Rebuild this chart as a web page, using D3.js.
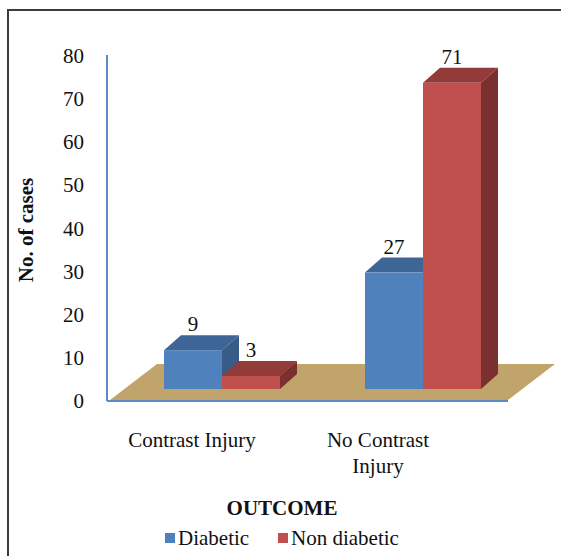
<!DOCTYPE html>
<html>
<head>
<meta charset="utf-8">
<script src="https://cdn.jsdelivr.net/npm/d3@7/dist/d3.min.js"></script>
<style>
html,body{margin:0;padding:0;background:#fff;}
svg{display:block;}
text{font-family:"Liberation Serif","Times New Roman",serif;fill:#111;}
</style>
</head>
<body>
<script>
// ---- data ----
const categories = ["Contrast Injury", "No Contrast Injury"];
const categoryLines = [["Contrast Injury"], ["No Contrast", "Injury"]];
const seriesNames = ["Diabetic", "Non diabetic"];
const diabetic = [9, 27];
const nonDiabetic = [3, 71];
const yTicks = [0, 10, 20, 30, 40, 50, 60, 70, 80];
const yTitle = "No. of cases";
const xTitle = "OUTCOME";

// ---- layout ----
const W = 561, H = 556;
const svg = d3.select("body").append("svg").attr("width", W).attr("height", H);

const colors = {
  front: ["#4F81BD", "#C0504D"],
  top:   ["#3D6697", "#923B39"],
  side:  ["#375C88", "#7A302E"]
};
const depthX = 17, depthY = -15;   // bar depth offset
const floorDX = 47, floorDY = -36; // floor depth offset
const barBaseShift = 11;           // bars sit inside the floor depth

const y = d3.scaleLinear().domain([0, 80]).range([400, 55]);
const xBar = d3.scaleBand().domain(categories).range([121.5, 523.5]).paddingInner(0).paddingOuter(0);
const xInner = d3.scaleBand().domain(seriesNames).range([xBar.bandwidth()/2 - 58, xBar.bandwidth()/2 + 58]);
const xLabel = d3.scalePoint().domain(categories).range([192, 378]);

// outer border
svg.append("rect").attr("x", 8).attr("y", 10).attr("width", 600).attr("height", 600)
  .attr("fill", "none").attr("stroke", "#3c3c3c").attr("stroke-width", 2);

// floor
const fx0 = 110, fx1 = 508, fy = y(0);
svg.append("polygon")
  .attr("points", [[fx0, fy], [fx1, fy], [fx1 + floorDX, fy + floorDY], [fx0 + floorDX, fy + floorDY]].map(p => p.join(",")).join(" "))
  .attr("fill", "#C1A46C");

// axis lines
svg.append("line").attr("x1", 107).attr("x2", 107).attr("y1", y(80)).attr("y2", y(0) + 1)
  .attr("stroke", "#5B8BC7").attr("stroke-width", 2);
svg.append("line").attr("x1", 107).attr("x2", fx1).attr("y1", y(0) + 1).attr("y2", y(0) + 1)
  .attr("stroke", "#5B8BC7").attr("stroke-width", 2);

// y tick labels
const yAxis = d3.axisLeft(y).tickValues(yTicks).tickSize(0).tickPadding(0);
const gy = svg.append("g").attr("transform", "translate(84,0)").call(yAxis);
gy.select(".domain").remove();
gy.selectAll("text").attr("font-size", 21).attr("font-family", "Liberation Serif").attr("fill", "#111").attr("dy", "0.36em");

// bars
const series = [diabetic, nonDiabetic];
categories.forEach((cat, ci) => {
  seriesNames.forEach((s, si) => {
    const v = series[si][ci];
    const x0 = xBar(cat) + xInner(s);
    const x1 = x0 + xInner.bandwidth();
    const yb = y(0) - barBaseShift;
    const yt = y(v) - barBaseShift;
    const g = svg.append("g");
    // top
    g.append("polygon")
      .attr("points", [[x0, yt], [x1, yt], [x1 + depthX, yt + depthY], [x0 + depthX, yt + depthY]].map(p => p.join(",")).join(" "))
      .attr("fill", colors.top[si]);
    // side
    g.append("polygon")
      .attr("points", [[x1, yt], [x1 + depthX, yt + depthY], [x1 + depthX, yb + depthY], [x1, yb]].map(p => p.join(",")).join(" "))
      .attr("fill", colors.side[si]);
    // front
    g.append("rect").attr("x", x0).attr("y", yt).attr("width", x1 - x0).attr("height", yb - yt)
      .attr("fill", colors.front[si]);
    // value label
    svg.append("text").attr("x", (x0 + x1) / 2).attr("y", yt + depthY - 4)
      .attr("text-anchor", "middle").attr("font-size", 21).text(v);
  });
});

// category labels
categories.forEach((cat, ci) => {
  categoryLines[ci].forEach((line, li) => {
    svg.append("text").attr("x", xLabel(cat)).attr("y", 447 + li * 26)
      .attr("text-anchor", "middle").attr("font-size", 21).text(line);
  });
});

// axis titles
svg.append("text").attr("transform", "translate(33,230) rotate(-90)")
  .attr("text-anchor", "middle").attr("font-size", 21).attr("font-weight", "bold").text(yTitle);
svg.append("text").attr("x", 282).attr("y", 515)
  .attr("text-anchor", "middle").attr("font-size", 21).attr("font-weight", "bold").text(xTitle);

// legend
const legendX = [165, 278];
seriesNames.forEach((s, si) => {
  svg.append("rect").attr("x", legendX[si]).attr("y", 533).attr("width", 10).attr("height", 10)
    .attr("fill", colors.front[si]);
  svg.append("text").attr("x", legendX[si] + 13).attr("y", 545).attr("font-size", 21).text(s);
});
</script>
</body>
</html>
